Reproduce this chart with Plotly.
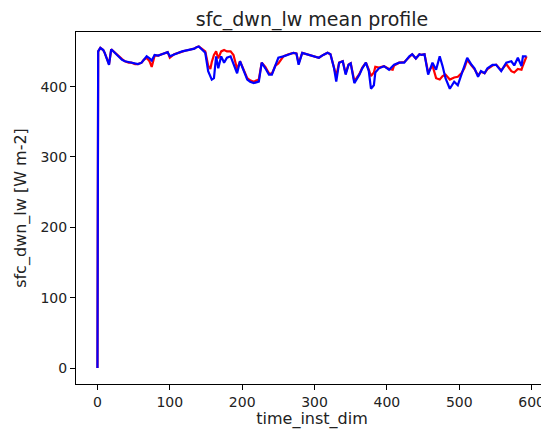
import plotly.graph_objects as go

time_idx = [0, 1, 4, 8, 10, 13, 16, 19, 24, 29, 34, 38, 43, 47, 52, 56, 61, 64, 68, 72,
            75, 79, 84, 89, 93, 97, 100, 106, 112, 117, 121, 126, 130, 134, 137, 140, 144,
            149, 153, 156, 158, 161, 164, 167, 171, 175, 179, 184, 188, 193, 197, 202, 207,
            211, 216, 223, 227, 232, 237, 241, 246, 250, 257, 264, 271, 275, 278, 283, 290,
            297, 301, 306, 312, 318, 322, 327, 330, 334, 339, 343, 347, 350, 355, 358, 362,
            366, 371, 375, 378, 382, 384, 389, 396, 403, 408, 410, 417, 424, 431, 435, 440,
            445, 448, 452, 457, 463, 468, 473, 477, 481, 487, 493, 498, 503, 507, 511, 517,
            521, 526, 530, 535, 539, 546, 551, 558, 565, 572, 576, 581, 586, 588, 593]

series_red = [0, 450, 455, 452, 448, 440, 432, 453, 448, 443, 439, 436, 434, 434, 432, 432, 434, 438, 441, 436,
              428, 444, 444, 446, 447, 449, 441, 446, 448, 450, 451, 452, 453, 454, 456, 457, 454,
              450, 430, 425, 435, 445, 450, 440, 450, 452, 450, 450, 445, 425, 436, 424, 412,
              409, 407, 410, 434, 428, 419, 418, 430, 433, 443, 446, 448, 447, 433, 448, 446,
              443, 442, 441, 445, 448, 446, 428, 415, 434, 436, 419, 431, 433, 408, 412, 418,
              427, 434, 424, 415, 420, 428, 427, 429, 425, 424, 430, 434, 435, 443, 446, 440,
              446, 445, 446, 420, 430, 412, 410, 415, 417, 410, 413, 414, 419, 426, 438, 430,
              425, 416, 421, 419, 425, 430, 431, 423, 432, 422, 420, 425, 424, 430, 443]

series_blue = [0, 450, 455, 452, 448, 440, 431, 453, 448, 443, 438, 436, 435, 434, 433, 432, 434, 438, 443, 440,
               437, 445, 444, 446, 447, 449, 443, 446, 448, 450, 451, 452, 453, 454, 456, 457, 453,
               448, 422, 414, 410, 412, 443, 426, 443, 434, 441, 443, 431, 419, 436, 422, 410,
               407, 405, 407, 434, 426, 417, 417, 429, 441, 443, 446, 448, 447, 431, 448, 446,
               443, 442, 441, 445, 448, 446, 426, 407, 434, 436, 417, 431, 433, 405, 410, 417,
               426, 434, 422, 397, 402, 420, 426, 429, 424, 430, 431, 434, 434, 443, 446, 440,
               446, 445, 446, 417, 434, 424, 443, 429, 412, 397, 407, 402, 417, 426, 441, 431,
               426, 414, 422, 419, 426, 431, 431, 422, 434, 436, 430, 441, 429, 443, 443]

x_ticks = [0, 100, 200, 300, 400, 500, 600]
y_ticks = [0, 100, 200, 300, 400]

fig = go.Figure()
fig.add_trace(go.Scatter(x=time_idx, y=series_red, mode="lines",
                         line=dict(color="red", width=2.2), showlegend=False))
fig.add_trace(go.Scatter(x=time_idx, y=series_blue, mode="lines",
                         line=dict(color="blue", width=2.2), showlegend=False))

font = "DejaVu Sans"
axis_common = dict(showline=True, mirror=True, linecolor="black", linewidth=1,
                   ticks="outside", ticklen=5, tickwidth=1, tickcolor="black",
                   showgrid=False, zeroline=False, automargin=False,
                   tickfont=dict(family=font, size=14, color="#222"))

# the page body has an 8px default margin, so the figure is sized to fit inside it
W, H = 541, 421
fig.update_layout(
    width=W, height=H,
    margin=dict(l=68, r=1, t=24, b=45),
    paper_bgcolor="white", plot_bgcolor="white",
    title=dict(text="sfc_dwn_lw mean profile", x=304 / W, xanchor="center",
               y=1 - 11 / H, yanchor="middle",
               font=dict(family=font, size=19, color="#222")),
    xaxis=dict(range=[-29.65, 622.65], tickvals=x_ticks,
               title=dict(text="time_inst_dim", standoff=0,
                          font=dict(family=font, size=16, color="#222")),
               **axis_common),
    yaxis=dict(range=[-22.7, 477.6], tickvals=y_ticks,
               title=dict(text="sfc_dwn_lw [W m-2]", standoff=9,
                          font=dict(family=font, size=16, color="#222")),
               **axis_common),
)

fig.write_html("out.html")
